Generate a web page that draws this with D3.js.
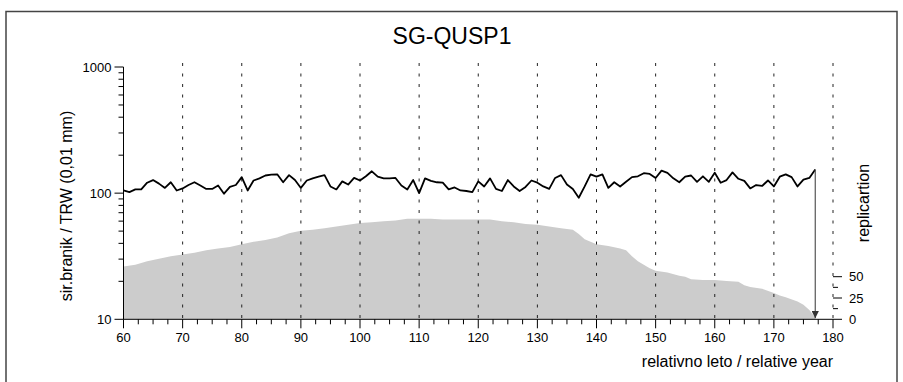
<!DOCTYPE html>
<html>
<head>
<meta charset="utf-8">
<script src="https://cdn.jsdelivr.net/npm/d3@7"></script>
<style>
  body { margin: 0; background: #fff; }
  svg { display: block; font-family: "Liberation Sans", Arial, sans-serif; }
</style>
</head>
<body>
<div id="chart"></div>
<script>
// ring widths, one value per year starting at relative year 60
const startYear = 60;
const trw = [
  105,102,107,107,121,127,119,110,122,105,
  109,116,122,115,108,108,115,99,112,116,
  134,105,126,131,138,140,141,122,139,127,
  110,126,131,135,139,113,107,124,117,132,
  126,136,149,135,131,131,132,115,107,127,
  100,131,125,122,121,107,111,105,104,102,
  124,113,131,108,104,127,113,104,112,126,
  121,113,108,132,139,117,108,92,113,141,
  135,141,110,122,113,123,134,136,144,142,
  132,151,145,131,122,135,138,123,136,123,
  145,121,127,146,130,125,109,116,114,126,
  113,135,141,134,113,128,132,154
];

// sample depth (replication)
const repYears = [60,62,64,66,68,70,72,74,76,78,80,82,84,86,88,90,92,94,96,98,100,102,104,106,108,110,112,114,116,118,120,122,124,126,128,130,132,134,136,137,138,139,140,142,144,145,146,147,148,149,150,152,154,155,156,158,160,162,164,165,166,168,170,171,172,174,175,176,177];
const repValues = [62,64,68,71,74,76,78,81,83,85,88,91,93,96,101,104,105,107,109,111,113,114,115,116,118,118,118,117,117,117,117,117,115,114,112,111,109,107,105,100,94,91,88,86,83,81,74,68,64,60,57,55,51,50,47,46,46,45,44,40,38,36,31,28,26,21,17,11,2];

const xTicks = [60,70,80,90,100,110,120,130,140,150,160,170,180];
const yTicks = [10,100,1000];
const repTicks = [0,25,50];

const width = 903, height = 382;

const x = d3.scaleLinear().domain([60, 180]).range([123.5, 833]);
const y = d3.scaleLog().domain([10, 1000]).range([319.3, 67]);
const r = d3.scaleLinear().domain([0, 50]).range([319.3, 276.7]);

const svg = d3.select("#chart").append("svg")
    .attr("width", width)
    .attr("height", height);

// frame
svg.append("rect")
    .attr("x", 6).attr("y", 11.5)
    .attr("width", 891).attr("height", 400)
    .attr("fill", "none")
    .attr("stroke", "#444")
    .attr("stroke-width", 1.5);

svg.append("text")
    .attr("x", 452).attr("y", 44)
    .attr("text-anchor", "middle")
    .attr("font-size", 23)
    .text("SG-QUSP1");

// replication area
const rep = repYears.map((d, i) => ({year: d, n: repValues[i]}));
svg.append("path")
    .datum(rep)
    .attr("fill", "#cccccc")
    .attr("d", d3.area().x(d => x(d.year)).y0(r(0)).y1(d => r(d.n)));

// dotted grid
svg.append("g")
    .selectAll("line")
    .data(xTicks.slice(1))
    .join("line")
      .attr("x1", d => x(d)).attr("x2", d => x(d))
      .attr("y1", y(1000) - 4).attr("y2", y(10))
      .attr("stroke", "#222")
      .attr("stroke-width", 1)
      .attr("stroke-dasharray", "3,7.5");

// ring width line
const series = trw.map((v, i) => ({year: startYear + i, v}));
svg.append("path")
    .datum(series)
    .attr("fill", "none")
    .attr("stroke", "#000")
    .attr("stroke-width", 1.8)
    .attr("stroke-linejoin", "round")
    .attr("d", d3.line().x(d => x(d.year)).y(d => y(d.v)));

// end arrow
svg.append("defs").append("marker")
    .attr("id", "arr")
    .attr("viewBox", "0 0 10 10")
    .attr("refX", 10).attr("refY", 5)
    .attr("markerWidth", 6).attr("markerHeight", 6)
    .attr("orient", "auto")
  .append("path")
    .attr("d", "M0,0L10,5L0,10Z")
    .attr("fill", "#333");
const last = series[series.length - 1];
svg.append("line")
    .attr("x1", x(last.year)).attr("x2", x(last.year))
    .attr("y1", y(last.v)).attr("y2", y(10) - 1)
    .attr("stroke", "#555")
    .attr("stroke-width", 1.2)
    .attr("marker-end", "url(#arr)");

// left axis
const yAxis = svg.append("g").attr("stroke", "#000");
yAxis.append("line")
    .attr("x1", x(60)).attr("x2", x(60))
    .attr("y1", y(1000)).attr("y2", y(10));
const minor = [];
[10, 100].forEach(b => d3.range(2, 10).forEach(k => minor.push(b * k)));
yAxis.selectAll(".mn").data(minor).join("line")
    .attr("x1", x(60) - 5).attr("x2", x(60))
    .attr("y1", d => y(d)).attr("y2", d => y(d));
yAxis.selectAll(".mj").data(yTicks).join("line")
    .attr("x1", x(60) - 9).attr("x2", x(60))
    .attr("y1", d => y(d)).attr("y2", d => y(d));
svg.append("g").selectAll("text").data(yTicks).join("text")
    .attr("x", x(60) - 12).attr("y", d => y(d))
    .attr("dy", "0.35em")
    .attr("text-anchor", "end")
    .attr("font-size", 13)
    .text(d => d);
svg.append("text")
    .attr("transform", "translate(72,206) rotate(-90)")
    .attr("text-anchor", "middle")
    .attr("font-size", 16)
    .text("sir.branik / TRW (0,01 mm)");

// bottom axis
const xAxis = svg.append("g").attr("stroke", "#000");
xAxis.append("line")
    .attr("x1", x(60)).attr("x2", x(180))
    .attr("y1", y(10)).attr("y2", y(10));
xAxis.selectAll(".mn").data(d3.range(60, 180.1, 2.5)).join("line")
    .attr("x1", d => x(d)).attr("x2", d => x(d))
    .attr("y1", y(10)).attr("y2", d => y(10) + (d % 10 === 0 ? 9 : 5));
svg.append("g").selectAll("text").data(xTicks).join("text")
    .attr("x", d => x(d)).attr("y", 342)
    .attr("text-anchor", "middle")
    .attr("font-size", 13)
    .text(d => d);
svg.append("text")
    .attr("x", x(180)).attr("y", 367)
    .attr("text-anchor", "end")
    .attr("font-size", 16)
    .text("relativno leto / relative year");

// right replication axis
const rAxis = svg.append("g").attr("stroke", "#000");
rAxis.selectAll("line").data([0, 12.5, 25, 37.5, 50]).join("line")
    .attr("x1", x(180)).attr("x2", d => x(180) + (d % 25 === 0 ? 9 : 5))
    .attr("y1", d => r(d)).attr("y2", d => r(d));
svg.append("g").selectAll("text").data(repTicks).join("text")
    .attr("x", x(180) + 16).attr("y", d => r(d))
    .attr("dy", "0.35em")
    .attr("font-size", 13)
    .text(d => d);
svg.append("text")
    .attr("transform", "translate(869,203) rotate(-90)")
    .attr("text-anchor", "middle")
    .attr("font-size", 16)
    .text("replicartion");
</script>
</body>
</html>
